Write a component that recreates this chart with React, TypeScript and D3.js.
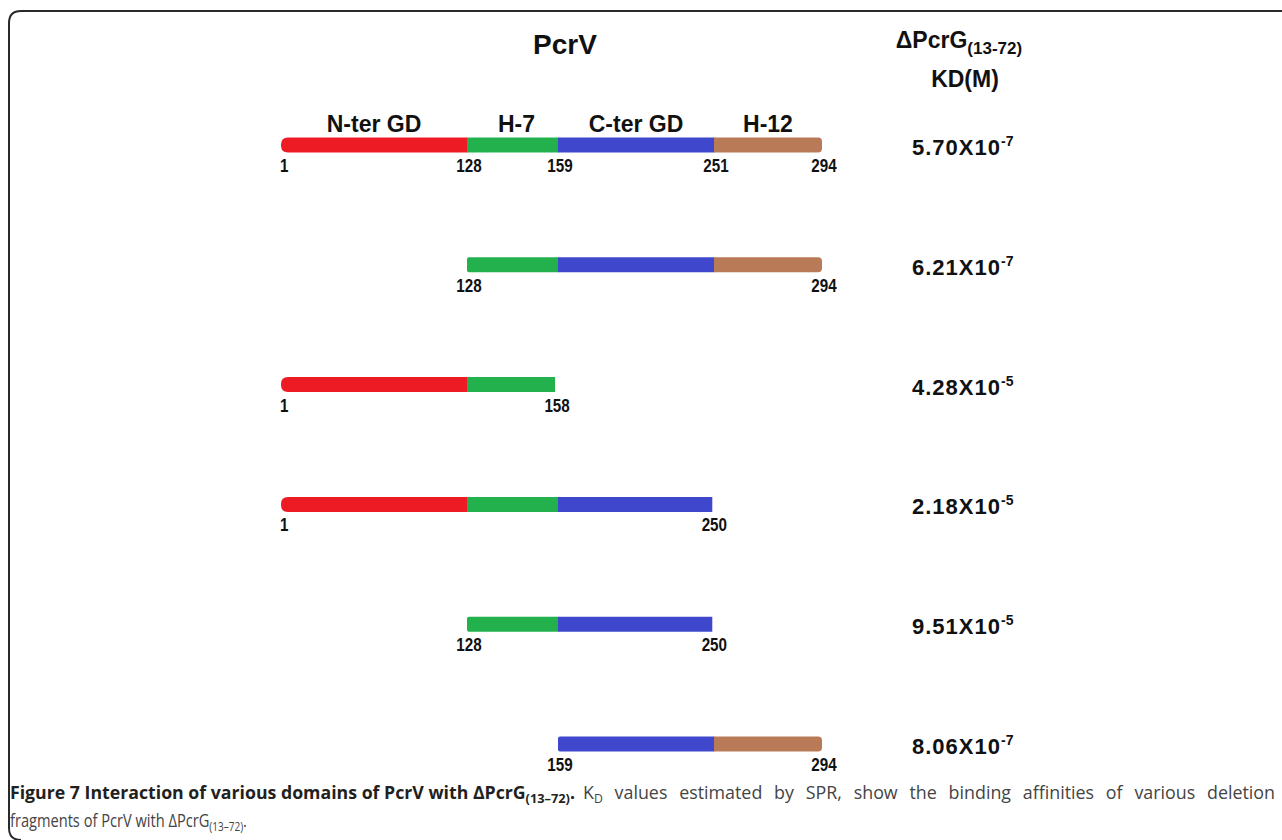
import React, { useLayoutEffect, useRef, useState } from "react";
import * as d3 from "d3";

// Domain definitions (residue boundaries) of PcrV
const domainNames = ["N-ter GD", "H-7", "C-ter GD", "H-12"];
const domainStart = [1, 128, 159, 251];
const domainEnd = [128, 159, 251, 294];
const domainColors = ["#ED1C24", "#22B14C", "#3F48CC", "#B97A57"];

// Fragments tested
const fragmentStart = [1, 128, 1, 1, 128, 159];
const fragmentEnd = [294, 294, 158, 250, 250, 294];
// residue labels shown under each fragment
const fragmentLabels = [
  [1, 128, 159, 251, 294],
  [128, 294],
  [1, 158],
  [1, 250],
  [128, 250],
  [159, 294],
];
// KD values (mantissa x 10^exponent)
const kdMantissa = ["5.70", "6.21", "4.28", "2.18", "9.51", "8.06"];
const kdExponent = ["-7", "-7", "-5", "-5", "-5", "-7"];

const captionRest = " values estimated by SPR, show the binding affinities of various deletion";

const W = 1282;
const H = 840;

export default function App() {
  // schematic (piecewise) residue scale
  const x = d3
    .scaleLinear()
    .domain([1, 128, 159, 251, 294])
    .range([281, 467, 558, 714, 822]);
  const y = d3
    .scalePoint<number>()
    .domain(d3.range(fragmentStart.length))
    .range([145, 744]);

  const barH = 15;
  const headFont = "'Liberation Sans', Arial, Helvetica, sans-serif";
  const capFont = "'Open Sans', 'Noto Sans', sans-serif";

  const capRef = useRef<SVGTextElement | null>(null);
  const cap2Ref = useRef<SVGTextElement | null>(null);
  const [wordSp, setWordSp] = useState(0);
  const [sx2, setSx2] = useState(0.86);
  const capSx = 0.94;
  const capTarget = (1275 - 583) / capSx;
  useLayoutEffect(() => {
    const el = capRef.current;
    if (el) {
      const len = el.getComputedTextLength();
      const spaces = (captionRest.match(/ /g) || []).length;
      if (spaces > 0) setWordSp(Math.max(0, (capTarget - len) / spaces));
    }
    const el2 = cap2Ref.current;
    if (el2) {
      const len2 = el2.getComputedTextLength();
      if (len2 > 0) setSx2(237 / len2);
    }
  }, []);

  const segPath = (x0: number, x1: number, yc: number, rl: number, rr: number) => {
    const t = yc - barH / 2;
    const b = yc + barH / 2;
    const p = d3.path();
    p.moveTo(x0 + rl, t);
    p.lineTo(x1 - rr, t);
    if (rr > 0) p.quadraticCurveTo(x1, t, x1, t + rr);
    p.lineTo(x1, b - rr);
    if (rr > 0) p.quadraticCurveTo(x1, b, x1 - rr, b);
    p.lineTo(x0 + rl, b);
    if (rl > 0) p.quadraticCurveTo(x0, b, x0, b - rl);
    p.lineTo(x0, t + rl);
    if (rl > 0) p.quadraticCurveTo(x0, t, x0 + rl, t);
    p.closePath();
    return p.toString();
  };

  const numSx = 0.8;

  return (
    <svg
      width={W}
      height={H}
      style={{ position: "absolute", left: 0, top: 0, background: "#fff" }}
    >
      {/* frame */}
      <path
        d="M 1290 11 H 21 Q 9 11 9 23 V 828 Q 9 840 21 840"
        fill="none"
        stroke="#2a2a2a"
        strokeWidth={2}
      />

      {/* headers */}
      <text x={565} y={54} textAnchor="middle" fontFamily={headFont} fontWeight="bold" fontSize={28} fill="#111">
        PcrV
      </text>
      <text x={959} y={48} textAnchor="middle" fontFamily={headFont} fontWeight="bold" fontSize={23} fill="#111">
        <tspan>ΔPcrG</tspan>
        <tspan fontSize={17} dy={6}>(13-72)</tspan>
      </text>
      <text x={965} y={87} textAnchor="middle" fontFamily={headFont} fontWeight="bold" fontSize={23} fill="#111">
        KD(M)
      </text>

      {/* domain names over the first bar */}
      {domainNames.map((n, i) => (
        <text
          key={n}
          x={(x(domainStart[i]) + x(domainEnd[i])) / 2 + (i === 1 ? 4 : 0)}
          y={y(0)! - 13}
          textAnchor="middle"
          fontFamily={headFont}
          fontWeight="bold"
          fontSize={23}
          fill="#111"
        >
          {n}
        </text>
      ))}

      {fragmentStart.map((fs, r) => {
        const fe = fragmentEnd[r];
        const yc = y(r)!;
        const segs = domainStart
          .map((ds, i) => ({ i, a: Math.max(fs, ds), b: Math.min(fe, domainEnd[i]) }))
          .filter((s) => s.b > s.a);
        return (
          <g key={r}>
            {segs.map((s, k) => {
              const first = k === 0;
              const last = k === segs.length - 1;
              const rl = first ? (s.i === 0 ? 7 : 2) : 0;
              const rr = last ? (s.i === 3 ? 4 : 0) : 0;
              return (
                <path
                  key={k}
                  d={segPath(x(s.a), x(s.b) + (last ? 0 : 0.5), yc, rl, rr)}
                  fill={domainColors[s.i]}
                />
              );
            })}
            {fragmentLabels[r].map((v, k) => (
              <text
                key={k}
                transform={`translate(${v === 1 ? x(1) - 1 : x(v) + 2},${yc + 27}) scale(${numSx},1)`}
                textAnchor={v === 1 ? "start" : "middle"}
                fontFamily={headFont}
                fontWeight="bold"
                fontSize={19}
                fill="#111"
              >
                {v}
              </text>
            ))}
            <text
              x={912}
              y={yc + 10}
              fontFamily={headFont}
              fontWeight="bold"
              fontSize={22}
              letterSpacing={1}
              fill="#111"
            >
              <tspan>{kdMantissa[r]}X10</tspan>
              <tspan fontSize={14} dy={-9} letterSpacing={0}>{kdExponent[r]}</tspan>
            </text>
          </g>
        );
      })}

      {/* caption */}
      <text
        transform="translate(10,799) scale(0.9,1)"
        fontFamily={capFont}
        fontSize={18}
        fontWeight="bold"
        fill="#231f20"
        textLength={565 / 0.9}
        lengthAdjust="spacingAndGlyphs"
      >
        <tspan>Figure 7 Interaction of various domains of PcrV with ΔPcrG</tspan>
        <tspan fontSize={13} dy={4}>(13–72)</tspan>
        <tspan dy={-4}>.</tspan>
      </text>
      <text
        ref={capRef}
        transform={`translate(583,799) scale(${capSx},1)`}
        fontFamily={capFont}
        fontSize={19}
        fontWeight={400}
        fill="#444"
        wordSpacing={wordSp}
        style={{ whiteSpace: "pre" }}
      >
        <tspan>K</tspan>
        <tspan fontSize={13} dy={4}>D</tspan>
        <tspan dy={-4}>{captionRest}</tspan>
      </text>
      <text
        ref={cap2Ref}
        transform={`translate(10,827) scale(${sx2},1)`}
        fontFamily={capFont}
        fontSize={19}
        fontWeight={400}
        fill="#444"
      >
        <tspan>fragments of PcrV with ΔPcrG</tspan>
        <tspan fontSize={13} dy={4}>(13–72)</tspan>
        <tspan dy={-4}>.</tspan>
      </text>
    </svg>
  );
}
